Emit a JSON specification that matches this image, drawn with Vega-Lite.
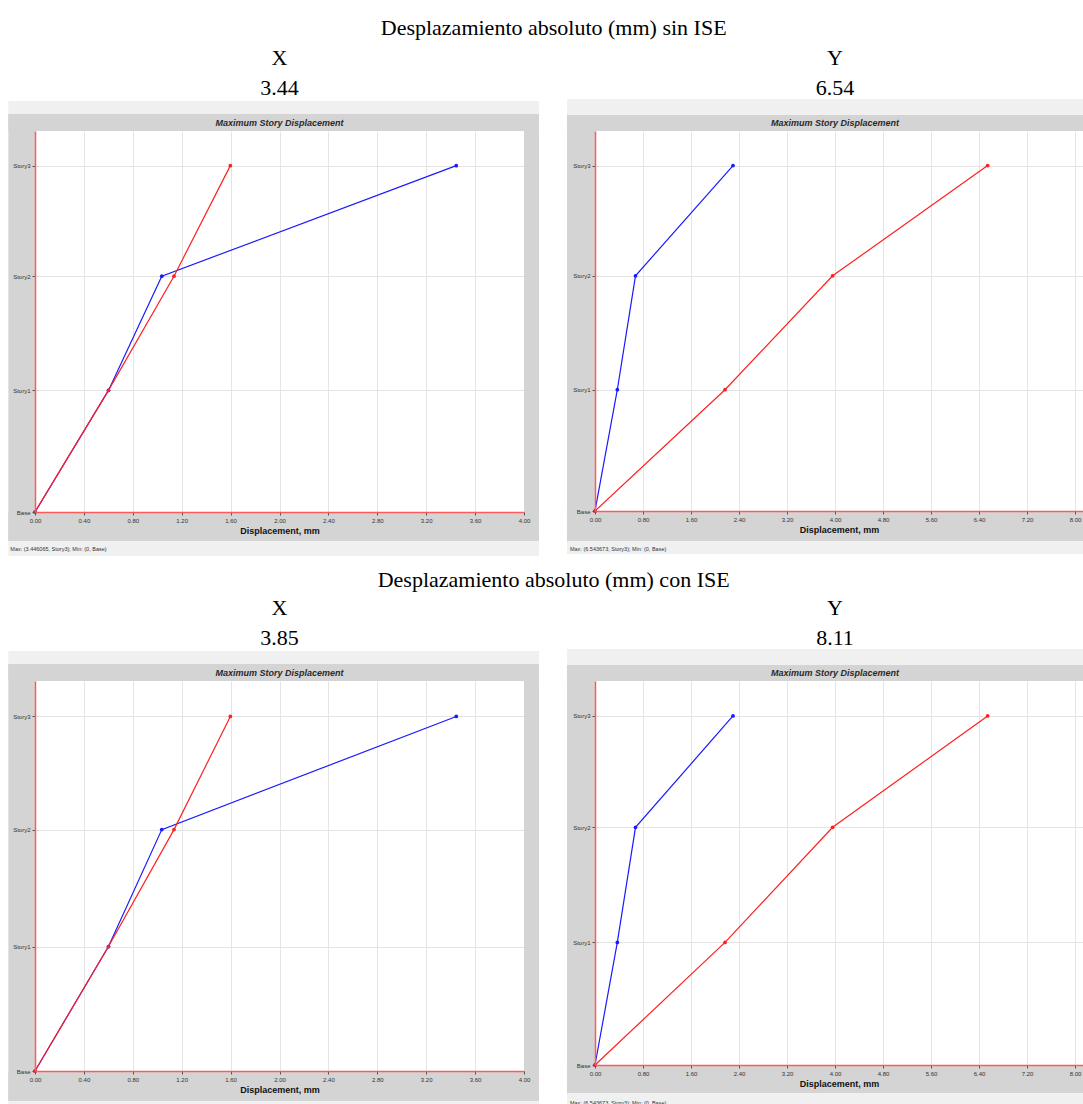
{
  "$schema": "https://vega.github.io/schema/vega-lite/v6.json",
  "background": "white",
  "padding": {"left": 8, "top": 16, "right": 0, "bottom": 0},
  "datasets": {
    "sinX": [
      {"serie": "Caso 1", "story": "Base", "elev": 0, "disp": 0},
      {"serie": "Caso 1", "story": "Story1", "elev": 3.3, "disp": 0.601},
      {"serie": "Caso 1", "story": "Story2", "elev": 6.4, "disp": 1.037},
      {"serie": "Caso 1", "story": "Story3", "elev": 9.4, "disp": 3.446},
      {"serie": "Caso 2", "story": "Base", "elev": 0, "disp": 0},
      {"serie": "Caso 2", "story": "Story1", "elev": 3.3, "disp": 0.601},
      {"serie": "Caso 2", "story": "Story2", "elev": 6.4, "disp": 1.137},
      {"serie": "Caso 2", "story": "Story3", "elev": 9.4, "disp": 1.598}
    ],
    "sinY": [
      {"serie": "Caso 1", "story": "Base", "elev": 0, "disp": 0},
      {"serie": "Caso 1", "story": "Story1", "elev": 3.3, "disp": 0.372},
      {"serie": "Caso 1", "story": "Story2", "elev": 6.4, "disp": 0.675},
      {"serie": "Caso 1", "story": "Story3", "elev": 9.4, "disp": 2.3},
      {"serie": "Caso 2", "story": "Base", "elev": 0, "disp": 0},
      {"serie": "Caso 2", "story": "Story1", "elev": 3.3, "disp": 2.167},
      {"serie": "Caso 2", "story": "Story2", "elev": 6.4, "disp": 3.96},
      {"serie": "Caso 2", "story": "Story3", "elev": 9.4, "disp": 6.544}
    ],
    "conX": [
      {"serie": "Caso 1", "story": "Base", "elev": 0, "disp": 0},
      {"serie": "Caso 1", "story": "Story1", "elev": 3.3, "disp": 0.601},
      {"serie": "Caso 1", "story": "Story2", "elev": 6.4, "disp": 1.037},
      {"serie": "Caso 1", "story": "Story3", "elev": 9.4, "disp": 3.446},
      {"serie": "Caso 2", "story": "Base", "elev": 0, "disp": 0},
      {"serie": "Caso 2", "story": "Story1", "elev": 3.3, "disp": 0.601},
      {"serie": "Caso 2", "story": "Story2", "elev": 6.4, "disp": 1.137},
      {"serie": "Caso 2", "story": "Story3", "elev": 9.4, "disp": 1.598}
    ],
    "conY": [
      {"serie": "Caso 1", "story": "Base", "elev": 0, "disp": 0},
      {"serie": "Caso 1", "story": "Story1", "elev": 3.3, "disp": 0.372},
      {"serie": "Caso 1", "story": "Story2", "elev": 6.4, "disp": 0.675},
      {"serie": "Caso 1", "story": "Story3", "elev": 9.4, "disp": 2.3},
      {"serie": "Caso 2", "story": "Base", "elev": 0, "disp": 0},
      {"serie": "Caso 2", "story": "Story1", "elev": 3.3, "disp": 2.167},
      {"serie": "Caso 2", "story": "Story2", "elev": 6.4, "disp": 3.96},
      {"serie": "Caso 2", "story": "Story3", "elev": 9.4, "disp": 6.544}
    ]
  },
  "vconcat": [
    {
      "title": {"text": "Desplazamiento absoluto (mm) sin ISE", "anchor": "middle", "dx": 8, "offset": 7, "font": "Liberation Serif", "fontSize": 22, "fontWeight": "normal", "color": "black"},
      "hconcat": [
        {
          "width": 489, "height": 381,
          "title": {"text": ["X", "3.44"], "subtitle": "Maximum Story Displacement", "subtitlePadding": 19, "offset": -28},
          "resolve": {"axis": {"x": "independent", "y": "independent"}},
          "layer": [
            {"data": {"values": [{}]}, "mark": {"type": "rect", "fill": "#f0f0f0"},
             "encoding": {"x": {"datum": -0.218, "type": "quantitative", "axis": null, "scale": {"domain": [0, 4], "nice": false, "zero": false}}, "x2": {"datum": 4.123},
                          "y": {"datum": 10.7, "type": "quantitative", "axis": null, "scale": {"domain": [0, 10.34], "nice": false, "zero": false}}, "y2": {"datum": 11.154}}},
            {"data": {"values": [{}]}, "mark": {"type": "rect", "fill": "#f0f0f0"},
             "encoding": {"x": {"datum": -0.218, "type": "quantitative", "axis": null}, "x2": {"datum": 4.123},
                          "y": {"datum": -1.194, "type": "quantitative", "axis": null}, "y2": {"datum": -0.7}}},
            {"data": {"values": [{}]}, "mark": {"type": "rect", "fill": "#d4d4d4"},
             "encoding": {"x": {"datum": -0.218, "type": "quantitative", "axis": null}, "x2": {"datum": 4.123},
                          "y": {"datum": 10.34, "type": "quantitative", "axis": null}, "y2": {"datum": 10.801}}},
            {"data": {"values": [{}]}, "mark": {"type": "rect", "fill": "#d4d4d4"},
             "encoding": {"x": {"datum": -0.218, "type": "quantitative", "axis": null}, "x2": {"datum": 4.123},
                          "y": {"datum": -0.787, "type": "quantitative", "axis": null}, "y2": {"datum": 0}}},
            {"data": {"values": [{}]}, "mark": {"type": "rect", "fill": "#d4d4d4"},
             "encoding": {"x": {"datum": -0.218, "type": "quantitative",
                                "axis": {"orient": "bottom", "grid": true, "labels": false, "ticks": false, "domain": false, "title": null, "zindex": 0, "maxExtent": 0, "minExtent": 0, "values": [0, 0.4, 0.8, 1.2, 1.6, 2.0, 2.4, 2.8, 3.2, 3.6, 4.0]}},
                          "x2": {"datum": 0},
                          "y": {"datum": -0.787, "type": "quantitative",
                                "axis": {"orient": "left", "grid": true, "labels": false, "ticks": false, "domain": false, "title": null, "zindex": 0, "maxExtent": 0, "minExtent": 0, "values": [0, 3.3, 6.4, 9.4]}},
                          "y2": {"datum": 10.801}}},
            {"data": {"values": [{}]}, "mark": {"type": "rect", "fill": "#d4d4d4"},
             "encoding": {"x": {"datum": 4, "type": "quantitative", "axis": null}, "x2": {"datum": 4.123},
                          "y": {"datum": -0.787, "type": "quantitative", "axis": null}, "y2": {"datum": 10.801}}},
            {"data": {"values": [{}]}, "mark": {"type": "text", "align": "left", "baseline": "middle", "font": "Liberation Sans", "fontSize": 5.5, "color": "#333"},
             "encoding": {"x": {"datum": -0.202, "type": "quantitative", "axis": null}, "y": {"datum": -1.004, "type": "quantitative", "axis": null}, "text": {"value": "Max: (3.446065, Story3);   Min: (0, Base)"}}},
            {"data": {"name": "sinX"}, "mark": {"type": "line", "strokeWidth": 1.2, "point": {"filled": true, "size": 14}},
             "encoding": {
               "x": {"field": "disp", "type": "quantitative", "scale": {"domain": [0, 4], "nice": false, "zero": false},
                     "axis": {"orient": "bottom", "grid": false, "zindex": 1, "values": [0, 0.4, 0.8, 1.2, 1.6, 2.0, 2.4, 2.8, 3.2, 3.6, 4.0], "format": ".2f", "title": "Displacement, mm"}},
               "y": {"field": "elev", "type": "quantitative", "scale": {"domain": [0, 10.34], "nice": false, "zero": false},
                     "axis": {"orient": "left", "grid": false, "zindex": 1, "values": [0, 3.3, 6.4, 9.4], "labelExpr": "datum.value == 0 ? 'Base' : datum.value < 4 ? 'Story1' : datum.value < 7 ? 'Story2' : 'Story3'", "title": null}},
               "color": {"field": "serie", "type": "nominal", "scale": {"domain": ["Caso 1", "Caso 2"], "range": ["#1a1aff", "#ff2020"]}, "legend": null},
               "order": {"field": "elev", "type": "quantitative"}
             }}
          ]
        },
        {
          "width": 488, "height": 380,
          "title": {"text": ["Y", "6.54"], "subtitle": "Maximum Story Displacement", "subtitlePadding": 19, "offset": -30, "dx": -4},
          "resolve": {"axis": {"x": "independent", "y": "independent"}},
          "layer": [
            {"data": {"values": [{}]}, "mark": {"type": "rect", "fill": "#f0f0f0"},
             "encoding": {"x": {"datum": -0.467, "type": "quantitative", "axis": null, "scale": {"domain": [0, 8.133], "nice": false, "zero": false}}, "x2": {"datum": 8.133},
                          "y": {"datum": 10.7, "type": "quantitative", "axis": null, "scale": {"domain": [0, 10.34], "nice": false, "zero": false}}, "y2": {"datum": 11.211}}},
            {"data": {"values": [{}]}, "mark": {"type": "rect", "fill": "#f0f0f0"},
             "encoding": {"x": {"datum": -0.467, "type": "quantitative", "axis": null}, "x2": {"datum": 8.133},
                          "y": {"datum": -1.17, "type": "quantitative", "axis": null}, "y2": {"datum": -0.75}}},
            {"data": {"values": [{}]}, "mark": {"type": "rect", "fill": "#d4d4d4"},
             "encoding": {"x": {"datum": -0.467, "type": "quantitative", "axis": null}, "x2": {"datum": 8.133},
                          "y": {"datum": 10.34, "type": "quantitative", "axis": null}, "y2": {"datum": 10.775}}},
            {"data": {"values": [{}]}, "mark": {"type": "rect", "fill": "#d4d4d4"},
             "encoding": {"x": {"datum": -0.467, "type": "quantitative", "axis": null}, "x2": {"datum": 8.133},
                          "y": {"datum": -0.816, "type": "quantitative", "axis": null}, "y2": {"datum": 0}}},
            {"data": {"values": [{}]}, "mark": {"type": "rect", "fill": "#d4d4d4"},
             "encoding": {"x": {"datum": -0.467, "type": "quantitative",
                                "axis": {"orient": "bottom", "grid": true, "labels": false, "ticks": false, "domain": false, "title": null, "zindex": 0, "maxExtent": 0, "minExtent": 0, "values": [0, 0.8, 1.6, 2.4, 3.2, 4.0, 4.8, 5.6, 6.4, 7.2, 8.0]}},
                          "x2": {"datum": 0},
                          "y": {"datum": -0.816, "type": "quantitative",
                                "axis": {"orient": "left", "grid": true, "labels": false, "ticks": false, "domain": false, "title": null, "zindex": 0, "maxExtent": 0, "minExtent": 0, "values": [0, 3.3, 6.4, 9.4]}},
                          "y2": {"datum": 10.775}}},
            {"data": {"values": [{}]}, "mark": {"type": "text", "align": "left", "baseline": "middle", "font": "Liberation Sans", "fontSize": 5.5, "color": "#333"},
             "encoding": {"x": {"datum": -0.417, "type": "quantitative", "axis": null}, "y": {"datum": -1.034, "type": "quantitative", "axis": null}, "text": {"value": "Max: (6.543673, Story3);   Min: (0, Base)"}}},
            {"data": {"name": "sinY"}, "mark": {"type": "line", "strokeWidth": 1.2, "point": {"filled": true, "size": 14}},
             "encoding": {
               "x": {"field": "disp", "type": "quantitative", "scale": {"domain": [0, 8.133], "nice": false, "zero": false},
                     "axis": {"orient": "bottom", "grid": false, "zindex": 1, "values": [0, 0.8, 1.6, 2.4, 3.2, 4.0, 4.8, 5.6, 6.4, 7.2, 8.0], "format": ".2f", "title": "Displacement, mm"}},
               "y": {"field": "elev", "type": "quantitative", "scale": {"domain": [0, 10.34], "nice": false, "zero": false},
                     "axis": {"orient": "left", "grid": false, "zindex": 1, "values": [0, 3.3, 6.4, 9.4], "labelExpr": "datum.value == 0 ? 'Base' : datum.value < 4 ? 'Story1' : datum.value < 7 ? 'Story2' : 'Story3'", "title": null}},
               "color": {"field": "serie", "type": "nominal", "scale": {"domain": ["Caso 1", "Caso 2"], "range": ["#1a1aff", "#ff2020"]}, "legend": null},
               "order": {"field": "elev", "type": "quantitative"}
             }}
          ]
        }
      ]
    },
    {
      "title": {"text": "Desplazamiento absoluto (mm) con ISE", "anchor": "middle", "dx": 8, "offset": 5, "font": "Liberation Serif", "fontSize": 22, "fontWeight": "normal", "color": "black"},
      "hconcat": [
        {
          "width": 489, "height": 390,
          "title": {"text": ["X", "3.85"], "subtitle": "Maximum Story Displacement", "subtitlePadding": 19, "offset": -28},
          "resolve": {"axis": {"x": "independent", "y": "independent"}},
          "layer": [
            {"data": {"values": [{}]}, "mark": {"type": "rect", "fill": "#f0f0f0"},
             "encoding": {"x": {"datum": -0.218, "type": "quantitative", "axis": null, "scale": {"domain": [0, 4], "nice": false, "zero": false}}, "x2": {"datum": 4.123},
                          "y": {"datum": 10.7, "type": "quantitative", "axis": null, "scale": {"domain": [0, 10.34], "nice": false, "zero": false}}, "y2": {"datum": 11.135}}},
            {"data": {"values": [{}]}, "mark": {"type": "rect", "fill": "#f0f0f0"},
             "encoding": {"x": {"datum": -0.218, "type": "quantitative", "axis": null}, "x2": {"datum": 4.123},
                          "y": {"datum": -0.954, "type": "quantitative", "axis": null}, "y2": {"datum": -0.7}}},
            {"data": {"values": [{}]}, "mark": {"type": "rect", "fill": "#d4d4d4"},
             "encoding": {"x": {"datum": -0.218, "type": "quantitative", "axis": null}, "x2": {"datum": 4.123},
                          "y": {"datum": 10.34, "type": "quantitative", "axis": null}, "y2": {"datum": 10.791}}},
            {"data": {"values": [{}]}, "mark": {"type": "rect", "fill": "#d4d4d4"},
             "encoding": {"x": {"datum": -0.218, "type": "quantitative", "axis": null}, "x2": {"datum": 4.123},
                          "y": {"datum": -0.795, "type": "quantitative", "axis": null}, "y2": {"datum": 0}}},
            {"data": {"values": [{}]}, "mark": {"type": "rect", "fill": "#d4d4d4"},
             "encoding": {"x": {"datum": -0.218, "type": "quantitative",
                                "axis": {"orient": "bottom", "grid": true, "labels": false, "ticks": false, "domain": false, "title": null, "zindex": 0, "maxExtent": 0, "minExtent": 0, "values": [0, 0.4, 0.8, 1.2, 1.6, 2.0, 2.4, 2.8, 3.2, 3.6, 4.0]}},
                          "x2": {"datum": 0},
                          "y": {"datum": -0.795, "type": "quantitative",
                                "axis": {"orient": "left", "grid": true, "labels": false, "ticks": false, "domain": false, "title": null, "zindex": 0, "maxExtent": 0, "minExtent": 0, "values": [0, 3.3, 6.4, 9.4]}},
                          "y2": {"datum": 10.791}}},
            {"data": {"values": [{}]}, "mark": {"type": "rect", "fill": "#d4d4d4"},
             "encoding": {"x": {"datum": 4, "type": "quantitative", "axis": null}, "x2": {"datum": 4.123},
                          "y": {"datum": -0.795, "type": "quantitative", "axis": null}, "y2": {"datum": 10.791}}},
            {"data": {"name": "conX"}, "mark": {"type": "line", "strokeWidth": 1.2, "point": {"filled": true, "size": 14}},
             "encoding": {
               "x": {"field": "disp", "type": "quantitative", "scale": {"domain": [0, 4], "nice": false, "zero": false},
                     "axis": {"orient": "bottom", "grid": false, "zindex": 1, "values": [0, 0.4, 0.8, 1.2, 1.6, 2.0, 2.4, 2.8, 3.2, 3.6, 4.0], "format": ".2f", "title": "Displacement, mm"}},
               "y": {"field": "elev", "type": "quantitative", "scale": {"domain": [0, 10.34], "nice": false, "zero": false},
                     "axis": {"orient": "left", "grid": false, "zindex": 1, "values": [0, 3.3, 6.4, 9.4], "labelExpr": "datum.value == 0 ? 'Base' : datum.value < 4 ? 'Story1' : datum.value < 7 ? 'Story2' : 'Story3'", "title": null}},
               "color": {"field": "serie", "type": "nominal", "scale": {"domain": ["Caso 1", "Caso 2"], "range": ["#1a1aff", "#ff2020"]}, "legend": null},
               "order": {"field": "elev", "type": "quantitative"}
             }}
          ]
        },
        {
          "width": 488, "height": 384,
          "title": {"text": ["Y", "8.11"], "subtitle": "Maximum Story Displacement", "subtitlePadding": 19, "offset": -30, "dx": -4},
          "resolve": {"axis": {"x": "independent", "y": "independent"}},
          "layer": [
            {"data": {"values": [{}]}, "mark": {"type": "rect", "fill": "#f0f0f0"},
             "encoding": {"x": {"datum": -0.467, "type": "quantitative", "axis": null, "scale": {"domain": [0, 8.133], "nice": false, "zero": false}}, "x2": {"datum": 8.133},
                          "y": {"datum": 10.7, "type": "quantitative", "axis": null, "scale": {"domain": [0, 10.34], "nice": false, "zero": false}}, "y2": {"datum": 11.202}}},
            {"data": {"values": [{}]}, "mark": {"type": "rect", "fill": "#f0f0f0"},
             "encoding": {"x": {"datum": -0.467, "type": "quantitative", "axis": null}, "x2": {"datum": 8.133},
                          "y": {"datum": -1.131, "type": "quantitative", "axis": null}, "y2": {"datum": -0.7}}},
            {"data": {"values": [{}]}, "mark": {"type": "rect", "fill": "#d4d4d4"},
             "encoding": {"x": {"datum": -0.467, "type": "quantitative", "axis": null}, "x2": {"datum": 8.133},
                          "y": {"datum": 10.34, "type": "quantitative", "axis": null}, "y2": {"datum": 10.771}}},
            {"data": {"values": [{}]}, "mark": {"type": "rect", "fill": "#d4d4d4"},
             "encoding": {"x": {"datum": -0.467, "type": "quantitative", "axis": null}, "x2": {"datum": 8.133},
                          "y": {"datum": -0.754, "type": "quantitative", "axis": null}, "y2": {"datum": 0}}},
            {"data": {"values": [{}]}, "mark": {"type": "rect", "fill": "#d4d4d4"},
             "encoding": {"x": {"datum": -0.467, "type": "quantitative",
                                "axis": {"orient": "bottom", "grid": true, "labels": false, "ticks": false, "domain": false, "title": null, "zindex": 0, "maxExtent": 0, "minExtent": 0, "values": [0, 0.8, 1.6, 2.4, 3.2, 4.0, 4.8, 5.6, 6.4, 7.2, 8.0]}},
                          "x2": {"datum": 0},
                          "y": {"datum": -0.754, "type": "quantitative",
                                "axis": {"orient": "left", "grid": true, "labels": false, "ticks": false, "domain": false, "title": null, "zindex": 0, "maxExtent": 0, "minExtent": 0, "values": [0, 3.3, 6.4, 9.4]}},
                          "y2": {"datum": 10.771}}},
            {"data": {"values": [{}]}, "mark": {"type": "text", "align": "left", "baseline": "middle", "font": "Liberation Sans", "fontSize": 5.5, "color": "#333"},
             "encoding": {"x": {"datum": -0.417, "type": "quantitative", "axis": null}, "y": {"datum": -1.023, "type": "quantitative", "axis": null}, "text": {"value": "Max: (6.543673, Story3);   Min: (0, Base)"}}},
            {"data": {"name": "conY"}, "mark": {"type": "line", "strokeWidth": 1.2, "point": {"filled": true, "size": 14}},
             "encoding": {
               "x": {"field": "disp", "type": "quantitative", "scale": {"domain": [0, 8.133], "nice": false, "zero": false},
                     "axis": {"orient": "bottom", "grid": false, "zindex": 1, "values": [0, 0.8, 1.6, 2.4, 3.2, 4.0, 4.8, 5.6, 6.4, 7.2, 8.0], "format": ".2f", "title": "Displacement, mm"}},
               "y": {"field": "elev", "type": "quantitative", "scale": {"domain": [0, 10.34], "nice": false, "zero": false},
                     "axis": {"orient": "left", "grid": false, "zindex": 1, "values": [0, 3.3, 6.4, 9.4], "labelExpr": "datum.value == 0 ? 'Base' : datum.value < 4 ? 'Story1' : datum.value < 7 ? 'Story2' : 'Story3'", "title": null}},
               "color": {"field": "serie", "type": "nominal", "scale": {"domain": ["Caso 1", "Caso 2"], "range": ["#1a1aff", "#ff2020"]}, "legend": null},
               "order": {"field": "elev", "type": "quantitative"}
             }}
          ]
        }
      ]
    }
  ],
  "spacing": 12,
  "config": {
    "view": {"stroke": null, "fill": "white"},
    "concat": {"spacing": 26},
    "title": {"font": "Liberation Serif", "fontSize": 22, "fontWeight": "normal", "color": "black", "lineHeight": 30, "anchor": "middle", "zindex": 1,
              "subtitleFont": "Liberation Sans", "subtitleFontSize": 9, "subtitleFontStyle": "italic", "subtitleFontWeight": "bold", "subtitleColor": "#2a2a2a"},
    "axis": {"labelFont": "Liberation Sans", "labelFontSize": 6, "labelColor": "#333", "tickColor": "#555", "tickSize": 3, "labelPadding": 2,
             "domainColor": "#ff5a5a", "domainWidth": 1.5, "gridColor": "#e4e4e4", "gridWidth": 1,
             "titleFont": "Liberation Sans", "titleFontSize": 9, "titleFontWeight": "bold", "titleColor": "#111", "titlePadding": 3, "labelFlush": false}
  }
}
